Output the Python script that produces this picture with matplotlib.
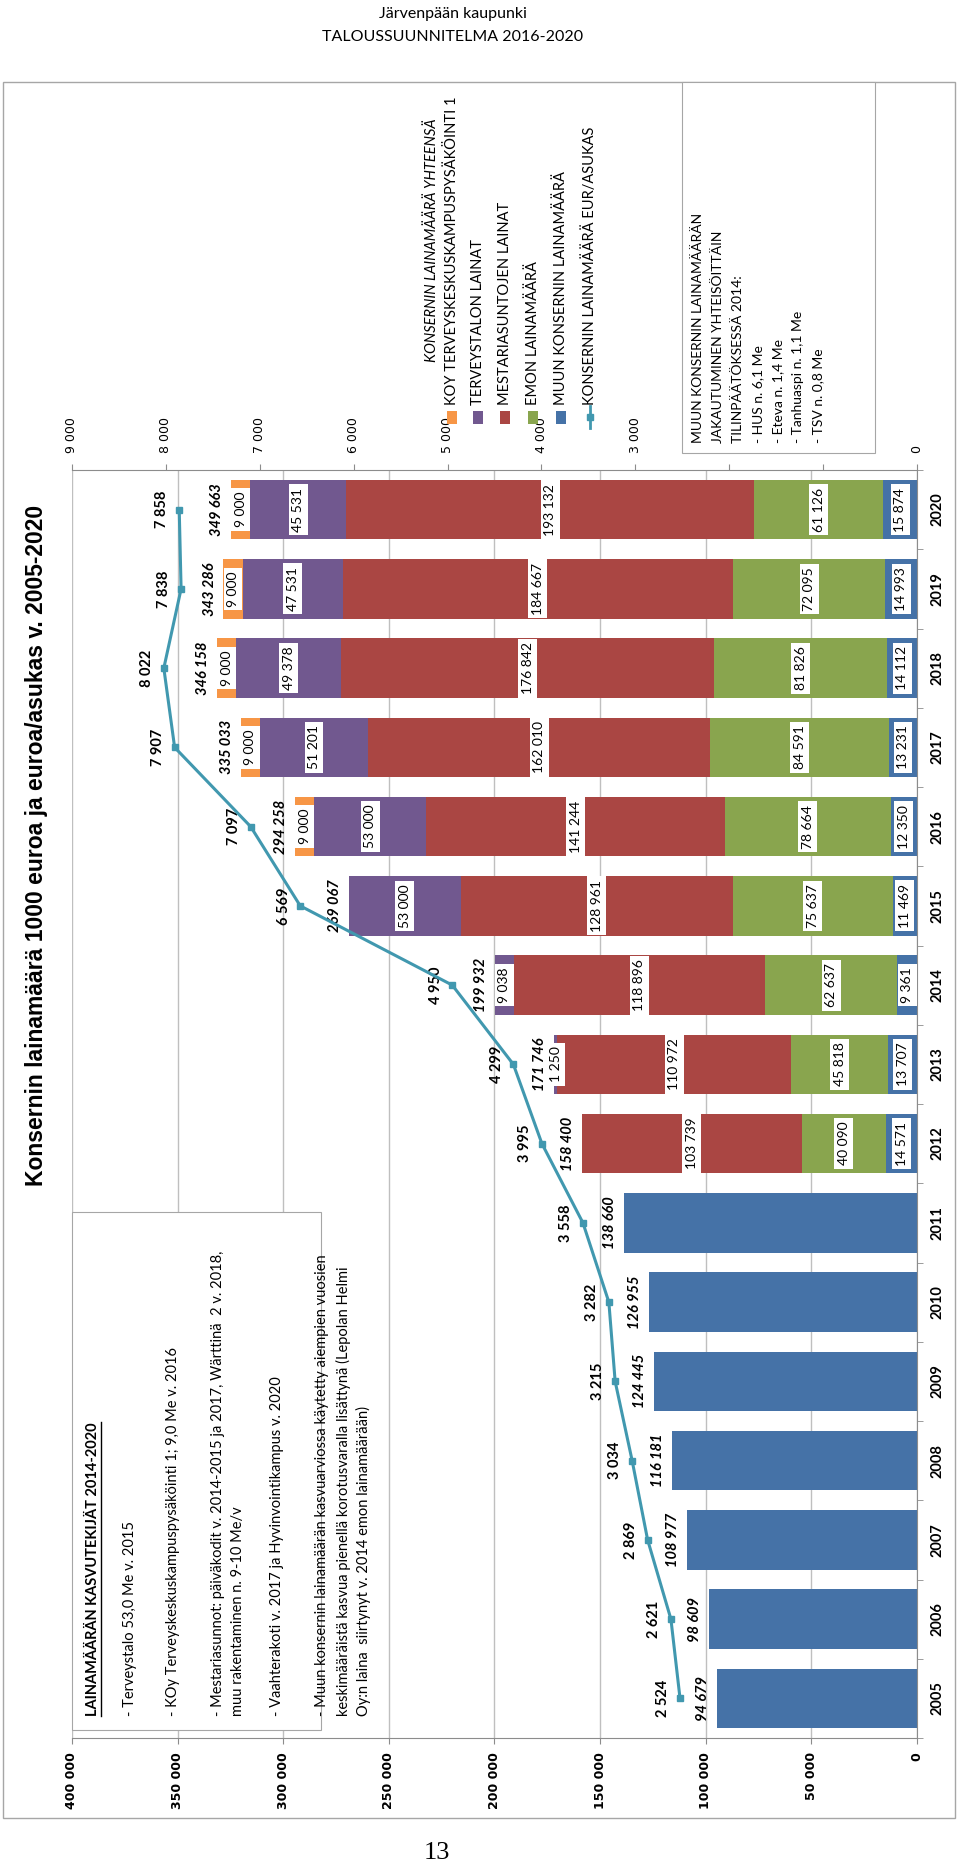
import matplotlib
matplotlib.use("Agg")
import matplotlib.pyplot as plt
from matplotlib.patches import Rectangle
from matplotlib.lines import Line2D
import numpy as np

# data (1000 euroa, eur/asukas)
years = list(range(2005, 2021))
muu_konserni = [94679, 98609, 108977, 116181, 124445, 126955, 138660,
                14571, 13707, 9361, 11469, 12350, 13231, 14112, 14993, 15874]
emo = [0, 0, 0, 0, 0, 0, 0,
       40090, 45818, 62637, 75637, 78664, 84591, 81826, 72095, 61126]
mestariasunnot = [0, 0, 0, 0, 0, 0, 0,
                  103739, 110972, 118896, 128961, 141244, 162010, 176842, 184667, 193132]
terveystalo = [0, 0, 0, 0, 0, 0, 0, 0,
               1250, 9038, 53000, 53000, 51201, 49378, 47531, 45531]
koy_pysakointi = [0] * 11 + [9000, 9000, 9000, 9000, 9000]
totals = [94679, 98609, 108977, 116181, 124445, 126955, 138660, 158400,
          171746, 199932, 269067, 294258, 335033, 346158, 343286, 349663]
eur_per_asukas = [2524, 2621, 2869, 3034, 3215, 3282, 3558, 3995,
                  4299, 4950, 6569, 7097, 7907, 8022, 7838, 7858]
first_labelled_year = 2012

BLUE, GREEN, RED = '#4572A7', '#89A54E', '#AA4643'
PURPLE, ORANGE, TEAL = '#71588F', '#F79646', '#4198AF'
GRID, AXIS = '#BFBFBF', '#8C8C8C'

W, H = 960, 1872


def fx(x):
    return x / W


def fy(y):
    return 1 - y / H


def fmt(v):
    return f"{v:,}".replace(",", " ")


plt.rcParams['font.family'] = ['Lato', 'DejaVu Sans']

fig = plt.figure(figsize=(W / 100, H / 100), dpi=100)

# chart is drawn turned a quarter turn: years run bottom->top, values right->left
ax = fig.add_axes([fx(72), fy(1738), (917 - 72) / W, (1738 - 470) / H])
idx = np.arange(len(years))

series = [(muu_konserni, BLUE), (emo, GREEN), (mestariasunnot, RED),
          (terveystalo, PURPLE), (koy_pysakointi, ORANGE)]
left = np.zeros(len(years))
for vals, color in series:
    vals = np.array(vals, dtype=float)
    ax.barh(idx, vals, left=left, height=0.75, color=color, zorder=2)
    for i, (v, l) in enumerate(zip(vals, left)):
        if v > 0 and years[i] >= first_labelled_year:
            ax.text(l + v / 2, i, fmt(int(v)), rotation=90, ha='center', va='center',
                    fontsize=10, zorder=4,
                    bbox=dict(boxstyle='square,pad=0.25', fc='white', ec='none'))
    left += vals

for i, t in enumerate(totals):
    ax.annotate(fmt(t), (left[i], i), xytext=(-5, 0), textcoords='offset points',
                rotation=90, ha='right', va='center', fontsize=10.5,
                fontweight='bold', fontstyle='italic', zorder=4)

ax.set_xlim(400000, 0)
ax.set_ylim(-0.5, len(years) - 0.5)
ax.set_axisbelow(True)
ax.grid(axis='x', color=GRID, lw=1)
ax.set_xticks(range(0, 400001, 50000),
              labels=[fmt(v) for v in range(0, 400001, 50000)],
              rotation=90, fontfamily='DejaVu Sans', fontweight='bold', fontsize=9)
ax.tick_params(axis='x', direction='out', length=4, color=AXIS, pad=6)

ax.yaxis.tick_right()
ax.set_yticks(idx, labels=[str(y) for y in years], rotation=90, va='center',
              fontweight='bold', fontsize=10.5)
ax.set_yticks(np.arange(-0.5, len(years), 1), minor=True)
ax.tick_params(axis='y', which='major', length=0, pad=10)
ax.tick_params(axis='y', which='minor', length=4, color=AXIS, direction='out')
for side in ('top', 'left'):
    ax.spines[side].set_visible(False)
for side in ('bottom', 'right'):
    ax.spines[side].set_color(AXIS)

ax2 = ax.twiny()
ax2.plot(eur_per_asukas, idx, color=TEAL, lw=2.2, marker='s', ms=5, zorder=5)
for i, e in enumerate(eur_per_asukas):
    ax2.annotate(fmt(e), (e, i), xytext=(-7, 0), textcoords='offset points',
                 rotation=90, ha='right', va='center', fontsize=10.5,
                 fontweight='bold')
ax2.set_xlim(9000, 0)
# 1 000 and 2 000 sit behind the note box in the original
sec_ticks = list(range(0, 9001, 1000))
sec_labels = ['' if v in (1000, 2000) else fmt(v) for v in sec_ticks]
ax2.set_xticks(sec_ticks, labels=sec_labels, rotation=90, fontfamily='DejaVu Sans',
               fontsize=9)
ax2.tick_params(axis='x', direction='out', length=4, color=AXIS, pad=8)
for side in ('left', 'right', 'bottom'):
    ax2.spines[side].set_visible(False)
ax2.spines['top'].set_color(AXIS)

# chart frame and text boxes
fig.add_artist(Rectangle((fx(3), fy(1818)), 952 / W, (1818 - 82) / H,
                         transform=fig.transFigure, fill=False, ec='#A6A6A6', lw=1))
fig.add_artist(Rectangle((fx(72), fy(1730)), (321 - 72) / W, (1730 - 1212) / H,
                         transform=fig.transFigure, fc='white', ec='#A6A6A6', lw=0.8))
fig.add_artist(Rectangle((fx(682), fy(453)), (875 - 682) / W, (453 - 82) / H,
                         transform=fig.transFigure, fc='white', ec='#A6A6A6', lw=0.8))

fig.text(fx(453), fy(14), "Järvenpään kaupunki", ha='center', va='center', fontsize=11.5)
fig.text(fx(453), fy(37), "TALOUSSUUNNITELMA 2016-2020", ha='center', va='center',
         fontsize=11.5)
fig.text(fx(37), fy(845), "Konsernin lainamäärä 1000 euroa ja euroa/asukas v. 2005-2020",
         rotation=90, ha='center', va='center', fontfamily='Liberation Sans',
         fontweight='bold', fontsize=16.5)
fig.text(fx(437), fy(1853), "13", ha='center', va='center', fontfamily='Liberation Serif',
         fontsize=19)

# legend, drawn by hand
fig.text(fx(432), fy(362), "KONSERNIN LAINAMÄÄRÄ YHTEENSÄ", rotation=90, ha='center',
         va='bottom', fontsize=10.5, fontstyle='italic')
legend_items = [("KOY TERVEYSKESKUSKAMPUSPYSÄKÖINTI 1", ORANGE, 452),
                ("TERVEYSTALON LAINAT", PURPLE, 478),
                ("MESTARIASUNTOJEN LAINAT", RED, 505),
                ("EMON LAINAMÄÄRÄ", GREEN, 533),
                ("MUUN KONSERNIN LAINAMÄÄRÄ", BLUE, 561)]
for label, color, x in legend_items:
    fig.add_artist(Rectangle((fx(x - 5), fy(424)), 10 / W, 13 / H, fc=color, ec='none',
                             transform=fig.transFigure))
    fig.text(fx(x), fy(405), label, rotation=90, ha='center', va='bottom', fontsize=10.5)
fig.add_artist(Line2D([fx(590)] * 3, [fy(428), fy(417), fy(406)], color=TEAL, lw=2,
                      marker='s', ms=5, markevery=[1], transform=fig.transFigure))
fig.text(fx(590), fy(405), "KONSERNIN LAINAMÄÄRÄ EUR/ASUKAS", rotation=90, ha='center',
         va='bottom', fontsize=10.5)

note_lines = ["MUUN KONSERNIN LAINAMÄÄRÄN", "JAKAUTUMINEN YHTEISÖITTÄIN",
              "TILINPÄÄTÖKSESSÄ 2014:", "- HUS n. 6,1 Me", "- Eteva n. 1,4 Me",
              "- Tanhuaspi n. 1,1 Me", "- TSV n. 0,8 Me"]
for k, line in enumerate(note_lines):
    fig.text(fx(698 + 20 * k), fy(443), line, rotation=90, ha='center', va='bottom',
             fontsize=10)

growth_lines = [("LAINAMÄÄRÄN KASVUTEKIJÄT 2014-2020", 93),
                ("- Terveystalo 53,0 Me v. 2015", 130),
                ("- KOy Terveyskeskuskampuspysäköinti 1; 9,0 Me v. 2016", 173),
                ("- Mestariasunnot: päiväkodit v. 2014-2015 ja 2017, Wärttinä  2 v. 2018,", 218),
                ("muu rakentaminen n. 9-10 Me/v", 238),
                ("- Vaahterakoti v. 2017 ja Hyvinvointikampus v. 2020", 277),
                ("- Muun konsernin lainamäärän kasvuarviossa käytetty aiempien vuosien", 322),
                ("keskimääräistä kasvua pienellä korotusvaralla lisättynä (Lepolan Helmi", 343),
                ("Oy:n laina  siirtynyt v. 2014 emon lainamäärään)", 363)]
heading = None
for k, (line, x) in enumerate(growth_lines):
    t = fig.text(fx(x), fy(1716), line, rotation=90, ha='center', va='bottom',
                 fontsize=10.5, fontweight='bold' if k == 0 else 'normal')
    if k == 0:
        heading = t

# underline for the heading
fig.canvas.draw()
bb = heading.get_window_extent()
inv = fig.transFigure.inverted()
(x0, y0), (x1, y1) = inv.transform([(bb.x1 + 1, bb.y0), (bb.x1 + 1, bb.y1)])
fig.add_artist(Line2D([x0, x1], [y0, y1], color='black', lw=1, transform=fig.transFigure))

fig.savefig("out.png", dpi=100)
